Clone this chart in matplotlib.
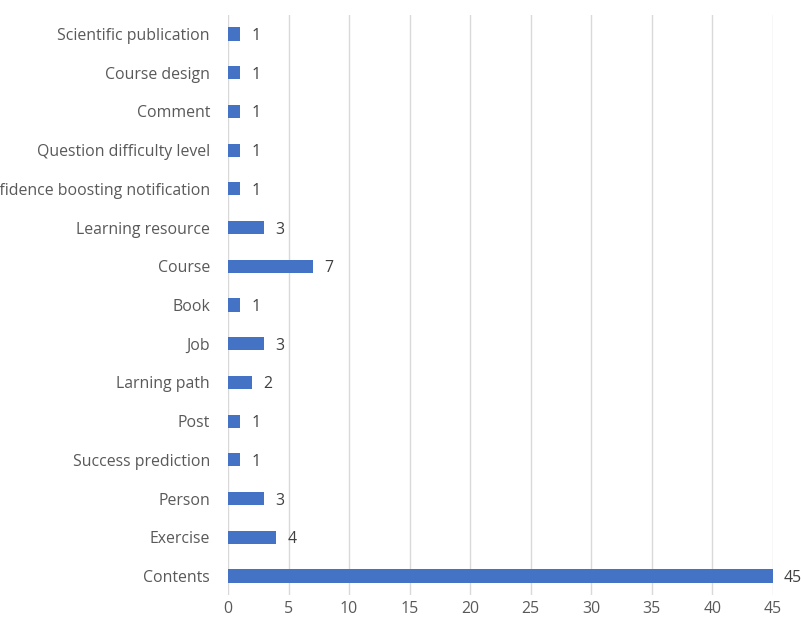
import matplotlib
matplotlib.use("Agg")
import matplotlib.pyplot as plt

# categories from top to bottom as shown
categories = [
    "Scientific publication",
    "Course design",
    "Comment",
    "Question difficulty level",
    "Confidence boosting notification",
    "Learning resource",
    "Course",
    "Book",
    "Job",
    "Larning path",
    "Post",
    "Success prediction",
    "Person",
    "Exercise",
    "Contents",
]
counts = [1, 1, 1, 1, 1, 3, 7, 1, 3, 2, 1, 1, 3, 4, 45]
xticks = list(range(0, 50, 5))

plt.rcParams['font.family'] = ['Open Sans', 'DejaVu Sans']

fig = plt.figure(figsize=(8.01, 6.30), dpi=100)
ax = fig.add_axes([0.2846, 0.0549, 0.965 - 0.2846, 0.9768 - 0.0549])

# reversed so the first category sits on top
ypos = list(range(len(categories)))[::-1]
ax.barh(ypos, counts, height=0.34, color='#4472C4', zorder=3)

for y, v in zip(ypos, counts):
    ax.annotate(str(v), (v, y), xytext=(8, 0), textcoords='offset points',
                va='center_baseline', ha='left', fontsize=11.4, color='#404040')

ax.set_xlim(0, 45)
ax.set_ylim(-0.5, len(categories) - 0.5)
ax.set_xticks(xticks)
ax.set_yticks(ypos)
ax.set_yticklabels(categories)

ax.grid(axis='x', color='#D9D9D9', linewidth=1, zorder=0)
for s in ax.spines.values():
    s.set_visible(False)
ax.tick_params(axis='both', length=0, labelsize=11.4, labelcolor='#595959')
ax.tick_params(axis='y', pad=13)
ax.tick_params(axis='x', pad=4)

fig.savefig("out.png", dpi=100)
